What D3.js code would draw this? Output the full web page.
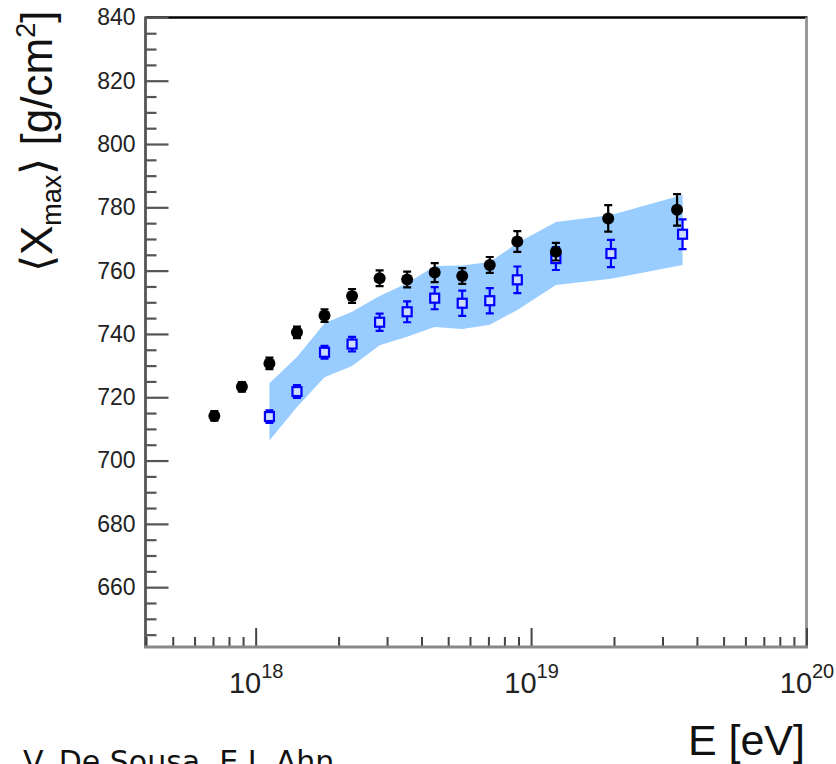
<!DOCTYPE html>
<html lang="en">
<head>
<meta charset="UTF-8">
<title>Xmax vs energy</title>
<style>
  body { margin: 0; background: #fff; }
  svg { display: block; }
  .tick text { font-family: "Liberation Sans", Arial, sans-serif; fill: #222; }
</style>
</head>
<body>
<svg id="chart" width="836" height="764"></svg>
<script src="https://cdn.jsdelivr.net/npm/d3@7"></script>
<script>
// data points (black: measured, blue: simulation + band)
const lgE_data = [17.85, 17.95, 18.05, 18.15, 18.25, 18.35, 18.45, 18.55, 18.65, 18.75, 18.85, 18.95, 19.09, 19.28, 19.53];
const xmax_data = [714.1, 723.3, 730.7, 740.5, 745.8, 752.0, 757.6, 757.2, 759.4, 758.3, 761.8, 769.2, 766.0, 776.5, 779.2];
const err_data = [1.5, 1.5, 1.8, 1.8, 2.0, 2.2, 2.5, 2.5, 3.0, 2.5, 2.5, 3.3, 2.8, 4.2, 5.0];

const lgE_sim = [18.05, 18.15, 18.25, 18.35, 18.45, 18.55, 18.65, 18.75, 18.85, 18.95, 19.09, 19.29, 19.55];
const xmax_sim = [713.9, 721.8, 734.2, 736.8, 743.7, 747.0, 751.3, 749.7, 750.5, 757.1, 763.8, 765.4, 771.5];
const err_sim = [2.0, 2.0, 2.0, 2.3, 2.7, 3.3, 3.5, 4.0, 4.0, 4.2, 3.6, 4.3, 4.7];
const band_hi = [724.4, 732.7, 743.4, 747.0, 752.0, 756.0, 761.5, 761.6, 762.7, 768.7, 775.4, 777.6, 783.9];
const band_lo = [706.3, 716.9, 726.3, 729.9, 736.4, 739.1, 742.2, 741.6, 742.9, 747.6, 755.5, 757.4, 761.8];

const yMajor = [660, 680, 700, 720, 740, 760, 780, 800, 820, 840];
const xMajor = [1e18, 1e19, 1e20];

const svg = d3.select("#chart");
const L = 145.5, R = 806.5, T = 17.4, B = 647;

const x = d3.scaleLog().domain([Math.pow(10, 17.6), 1e20]).range([L, R]);
const y = d3.scaleLinear().domain([641.1, 840]).range([B, T]);

// band
const band = lgE_sim.map((e, i) => ({ e: Math.pow(10, e), hi: band_hi[i], lo: band_lo[i] }));
svg.append("path")
    .datum(band)
    .attr("fill", "#99ccff")
    .attr("d", d3.area().x(d => x(d.e)).y0(d => y(d.lo)).y1(d => y(d.hi)));

// frame top / right
svg.append("line").attr("x1", L).attr("x2", R + 1).attr("y1", T).attr("y2", T)
    .attr("stroke", "#000").attr("stroke-width", 2.5);
svg.append("line").attr("x1", R).attr("x2", R).attr("y1", T).attr("y2", B)
    .attr("stroke", "#999").attr("stroke-width", 3);

// y axis
const yMinor = d3.range(645, 840, 5).filter(v => v % 20 !== 0);
const yMin = svg.append("g").attr("transform", `translate(${L},0)`)
    .call(d3.axisLeft(y).tickValues(yMinor).tickSize(-11).tickFormat(""));
const yAx = svg.append("g").attr("transform", `translate(${L},0)`)
    .call(d3.axisLeft(y).tickValues(yMajor).tickSize(-23).tickPadding(10).tickFormat(d3.format("d")));
yAx.selectAll("text").style("font-size", "23px");
[yMin, yAx].forEach(g => {
    g.select(".domain").remove();
    g.selectAll(".tick line").attr("stroke", "#555").attr("stroke-width", 2.2);
});
svg.append("line").attr("x1", L).attr("x2", L).attr("y1", T - 1).attr("y2", B)
    .attr("stroke", "#555").attr("stroke-width", 2.8);

// x axis
const xMinor = [];
[1e17, 1e18, 1e19].forEach(d => { for (let k = 2; k <= 9; k++) if (d * k > x.domain()[0]) xMinor.push(d * k); });
const xMin = svg.append("g").attr("transform", `translate(0,${B})`)
    .call(d3.axisBottom(x).tickValues(xMinor).tickSize(-10).tickFormat(""));
const xAx = svg.append("g").attr("transform", `translate(0,${B})`)
    .call(d3.axisBottom(x).tickValues(xMajor).tickSize(-19).tickFormat(""));
[xMin, xAx].forEach(g => {
    g.select(".domain").remove();
    g.selectAll(".tick line").attr("stroke", "#444").attr("stroke-width", 2);
});
xAx.selectAll(".tick").each(function (d) {
    const t = d3.select(this).append("text")
        .attr("y", 46).attr("text-anchor", "middle").attr("fill", "#222");
    t.append("tspan").style("font-size", "29px").text("10");
    t.append("tspan").style("font-size", "20px").attr("dy", -15).text(Math.round(Math.log10(d)));
});
svg.append("line").attr("x1", L - 1.5).attr("x2", R + 1.5).attr("y1", B).attr("y2", B)
    .attr("stroke", "#888").attr("stroke-width", 3);

// simulation points (open blue squares)
const sim = lgE_sim.map((e, i) => ({ e: Math.pow(10, e), v: xmax_sim[i], s: err_sim[i] }));
const gs = svg.append("g").attr("stroke", "#0000ff").attr("stroke-width", 2.2).attr("fill", "none");
gs.selectAll("path.err").data(sim).join("path").attr("class", "err")
    .attr("d", d => {
        const cx = x(d.e), a = y(d.v + d.s), b = y(d.v - d.s);
        return `M${cx},${a}V${b}M${cx - 4},${a}H${cx + 4}M${cx - 4},${b}H${cx + 4}`;
    });
gs.selectAll("rect").data(sim).join("rect")
    .attr("x", d => x(d.e) - 4.5).attr("y", d => y(d.v) - 4.5)
    .attr("width", 9).attr("height", 9).attr("fill", "#ccddff");

// measured points (black dots)
const dat = lgE_data.map((e, i) => ({ e: Math.pow(10, e), v: xmax_data[i], s: err_data[i] }));
const gd = svg.append("g");
gd.selectAll("path").data(dat).join("path")
    .attr("stroke", "#000").attr("stroke-width", 2.2).attr("fill", "none")
    .attr("d", d => {
        const cx = x(d.e), a = y(d.v + d.s), b = y(d.v - d.s);
        return `M${cx},${a}V${b}M${cx - 4},${a}H${cx + 4}M${cx - 4},${b}H${cx + 4}`;
    });
gd.selectAll("circle").data(dat).join("circle")
    .attr("cx", d => x(d.e)).attr("cy", d => y(d.v)).attr("r", 6).attr("fill", "#000");

// titles
const yt = svg.append("text")
    .attr("transform", "translate(52,272) rotate(-90)")
    .attr("font-family", "'Liberation Sans', Arial, sans-serif")
    .attr("font-size", 44).attr("fill", "#111");
yt.append("tspan").text("\u27E8X");
yt.append("tspan").attr("font-size", 27).attr("dy", 9).text("max");
yt.append("tspan").attr("dy", -9).text("\u27E9 [g/cm");
yt.append("tspan").attr("font-size", 27).attr("dy", -17).text("2");
yt.append("tspan").attr("dy", 17).text("]");

svg.append("text")
    .attr("x", 805).attr("y", 755).attr("text-anchor", "end")
    .attr("font-family", "'Liberation Sans', Arial, sans-serif")
    .attr("font-size", 43).attr("fill", "#111")
    .text("E [eV]");

svg.append("text")
    .attr("x", 23).attr("y", 772)
    .attr("font-family", "'DejaVu Sans', sans-serif")
    .attr("font-size", 30).attr("fill", "#111")
    .text("V. De Sousa, E.J. Ahn");
</script>
</body>
</html>
